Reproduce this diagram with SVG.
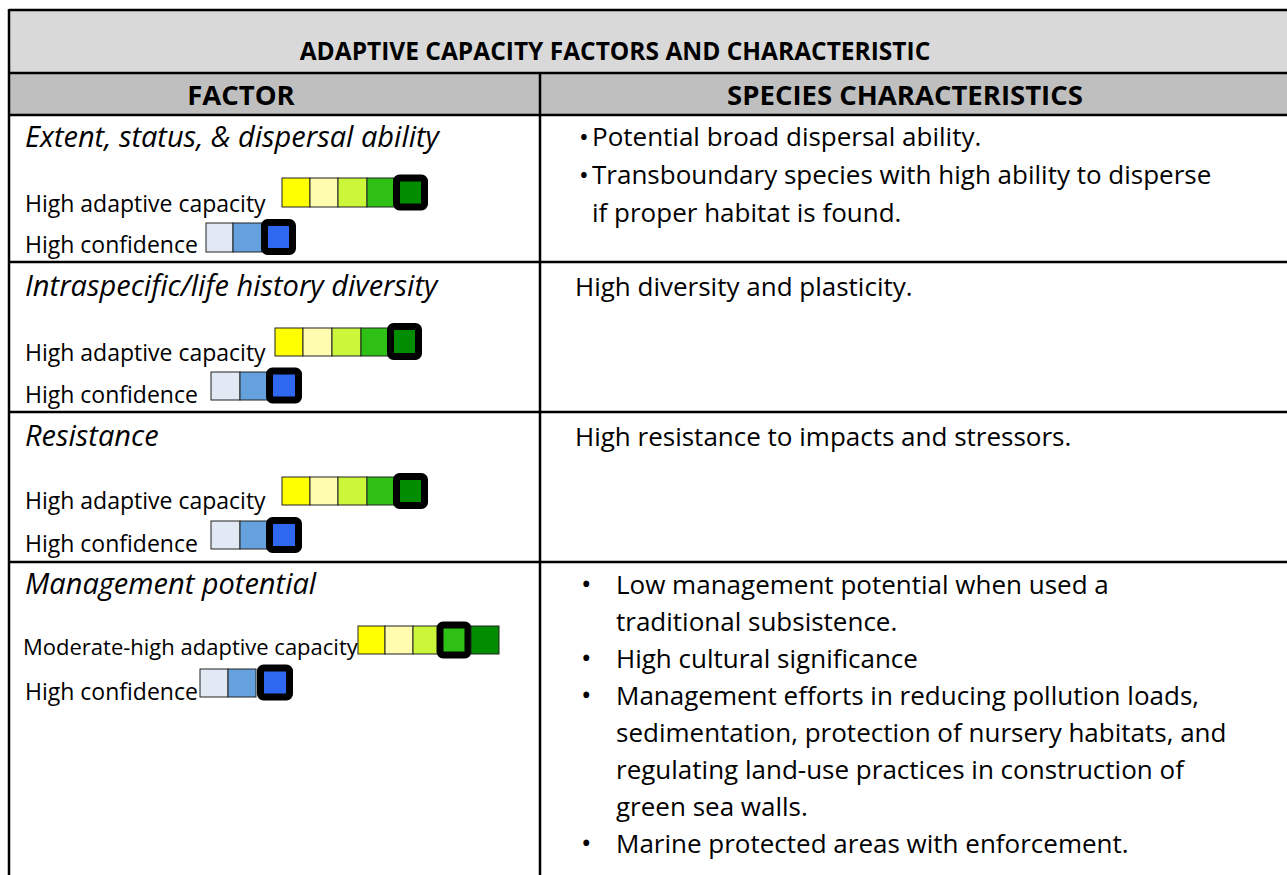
<svg xmlns="http://www.w3.org/2000/svg" width="1287" height="875" viewBox="0 0 1287 875">
<style>
text{font-family:"Open Sans","Liberation Sans",sans-serif;fill:#000}
.t{font-weight:bold;font-size:24.5px}
.h{font-weight:bold;font-size:27.5px}
.f{font-style:italic;font-size:29px}
.b{font-size:26px}
.bu{font-size:28px}
.l{font-size:23px}
.m{font-size:22px}
.grid{stroke:#000;stroke-width:2.5;fill:none}
.sq{stroke:#222;stroke-width:1}
.sel{fill:none;stroke:#000;stroke-width:7}
.y1{fill:#FFFF00}.y2{fill:#FFFCB0}.y3{fill:#CCF63A}.y4{fill:#2EC014}.y5{fill:#008E00}
.c1{fill:#E1E9F4}.c2{fill:#65A1DC}.c3{fill:#2E68F0}
</style>
<g id="table-bg">
<rect x="9" y="10" width="1290" height="63" fill="#D9D9D9"/>
<rect x="9" y="73" width="1290" height="42" fill="#BFBFBF"/>
<rect x="9" y="115" width="1290" height="770" fill="#FFFFFF"/>
</g>
<g id="grid" class="grid">
<line x1="9" y1="10" x2="1290" y2="10"/>
<line x1="9" y1="73" x2="1290" y2="73"/>
<line x1="9" y1="115" x2="1290" y2="115"/>
<line x1="9" y1="262" x2="1290" y2="262"/>
<line x1="9" y1="412" x2="1290" y2="412"/>
<line x1="9" y1="562" x2="1290" y2="562"/>
<line x1="9" y1="9" x2="9" y2="880"/>
<line x1="540" y1="73" x2="540" y2="880"/>
</g>
<g id="title"><text class="t" x="615" y="60" text-anchor="middle">ADAPTIVE CAPACITY FACTORS AND CHARACTERISTIC</text></g>
<g id="header-factor"><text class="h" x="241" y="105" text-anchor="middle">FACTOR</text></g>
<g id="header-species"><text class="h" x="905" y="105" text-anchor="middle">SPECIES CHARACTERISTICS</text></g>

<g id="row1-factor">
<text class="f" x="25" y="147">Extent, status, &amp; dispersal ability</text>
<text class="l" x="25" y="212">High adaptive capacity</text>
<rect class="sq y1" x="282" y="178" width="28" height="29"/>
<rect class="sq y2" x="310" y="178" width="28" height="29"/>
<rect class="sq y3" x="338" y="178" width="29" height="29"/>
<rect class="sq y4" x="367" y="178" width="30" height="29"/>
<rect class="y5" x="397" y="178" width="28" height="29"/>
<rect class="sel" x="396.5" y="178" width="28" height="29" rx="3"/>
<text class="l" x="25" y="253">High confidence</text>
<rect class="sq c1" x="206" y="223" width="27" height="29"/>
<rect class="sq c2" x="233" y="223" width="29" height="29"/>
<rect class="c3" x="264" y="223" width="29" height="29"/>
<rect class="sel" x="264.5" y="222.5" width="28" height="29" rx="3"/>
</g>
<g id="row1-species">
<text class="b" x="579" y="146">•</text><text class="b" x="592" y="146">Potential broad dispersal ability.</text>
<text class="b" x="579" y="184">•</text><text class="b" x="592" y="184">Transboundary species with high ability to disperse</text>
<text class="b" x="592" y="222">if proper habitat is found.</text>
</g>

<g id="row2-factor">
<text class="f" x="25" y="296">Intraspecific/life history diversity</text>
<text class="l" x="25" y="361">High adaptive capacity</text>
<rect class="sq y1" x="275" y="328" width="28" height="28"/>
<rect class="sq y2" x="303" y="328" width="29" height="28"/>
<rect class="sq y3" x="332" y="328" width="29" height="28"/>
<rect class="sq y4" x="361" y="328" width="29" height="28"/>
<rect class="y5" x="390" y="328" width="29" height="28"/>
<rect class="sel" x="390.5" y="326.5" width="28" height="30" rx="3"/>
<text class="l" x="25" y="403">High confidence</text>
<rect class="sq c1" x="211" y="372" width="29" height="28"/>
<rect class="sq c2" x="240" y="372" width="28" height="28"/>
<rect class="c3" x="269" y="372" width="30" height="28"/>
<rect class="sel" x="269.5" y="371" width="29" height="29" rx="3"/>
</g>
<g id="row2-species">
<text class="b" x="575" y="296">High diversity and plasticity.</text>
</g>

<g id="row3-factor">
<text class="f" x="25" y="446">Resistance</text>
<text class="l" x="25" y="509">High adaptive capacity</text>
<rect class="sq y1" x="282" y="477" width="28" height="28"/>
<rect class="sq y2" x="310" y="477" width="28" height="28"/>
<rect class="sq y3" x="338" y="477" width="29" height="28"/>
<rect class="sq y4" x="367" y="477" width="30" height="28"/>
<rect class="y5" x="397" y="477" width="28" height="28"/>
<rect class="sel" x="396.5" y="476.5" width="28" height="29" rx="3"/>
<text class="l" x="25" y="552">High confidence</text>
<rect class="sq c1" x="211" y="521" width="29" height="28"/>
<rect class="sq c2" x="240" y="521" width="28" height="28"/>
<rect class="c3" x="269" y="521" width="30" height="28"/>
<rect class="sel" x="269.5" y="520.5" width="29" height="29" rx="3"/>
</g>
<g id="row3-species">
<text class="b" x="575" y="446">High resistance to impacts and stressors.</text>
</g>

<g id="row4-factor">
<text class="f" x="25" y="594">Management potential</text>
<text class="m" x="23" y="655">Moderate-high adaptive capacity</text>
<rect class="sq y1" x="358" y="626" width="27" height="28"/>
<rect class="sq y2" x="385" y="626" width="28" height="28"/>
<rect class="sq y3" x="413" y="626" width="27" height="28"/>
<rect class="y4" x="440" y="626" width="28" height="28"/>
<rect class="sel" x="440" y="625" width="28" height="30" rx="3"/>
<rect class="sq y5" x="471" y="626" width="28" height="28"/>
<text class="l" x="25" y="700">High confidence</text>
<rect class="sq c1" x="200" y="669" width="28" height="28"/>
<rect class="sq c2" x="228" y="669" width="28" height="28"/>
<rect class="c3" x="260" y="669" width="30" height="28"/>
<rect class="sel" x="260.5" y="668" width="29" height="29" rx="3"/>
</g>
<g id="row4-species">
<text class="bu" x="581" y="594">•</text><text class="b" x="616" y="594">Low management potential when used a</text>
<text class="b" x="616" y="631">traditional subsistence.</text>
<text class="bu" x="581" y="668">•</text><text class="b" x="616" y="668">High cultural significance</text>
<text class="bu" x="581" y="705">•</text><text class="b" x="616" y="705">Management efforts in reducing pollution loads,</text>
<text class="b" x="616" y="742">sedimentation, protection of nursery habitats, and</text>
<text class="b" x="616" y="779">regulating land-use practices in construction of</text>
<text class="b" x="616" y="816">green sea walls.</text>
<text class="bu" x="581" y="853">•</text><text class="b" x="616" y="853">Marine protected areas with enforcement.</text>
</g>
</svg>
